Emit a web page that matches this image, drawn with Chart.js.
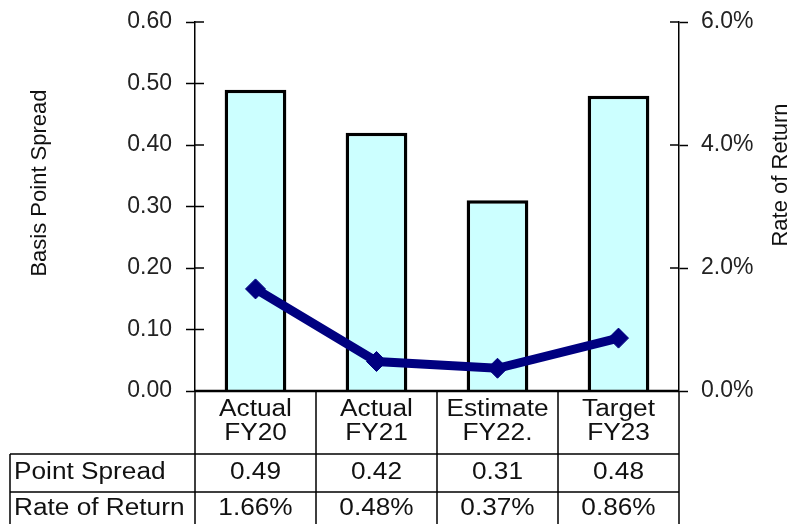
<!DOCTYPE html>
<html>
<head>
<meta charset="utf-8">
<script src="https://cdn.jsdelivr.net/npm/chart.js@4.4.1/dist/chart.umd.min.js"></script>
<style>
  body { margin: 0; background: #fff; }
</style>
</head>
<body>
<canvas id="chart" width="795" height="524"></canvas>
<script>
// data
const categories = [["Actual", "FY20"], ["Actual", "FY21"], ["Estimate", "FY22."], ["Target", "FY23"]];
const pointSpread = [0.49, 0.42, 0.31, 0.48];
const rateOfReturn = [1.66, 0.48, 0.37, 0.86]; // percent
const rowLabels = ["Point Spread", "Rate of Return"];
const spreadRange = [0, 0.6, 0.1];
const returnRange = [0, 6, 2];

const FONT = '"Liberation Sans", Arial, sans-serif';
const SX = 1.14; // reference text is a bit wide

function wideText(ctx, s, x, y, align) {
  ctx.save();
  ctx.translate(x, y);
  ctx.scale(SX, 1);
  ctx.textAlign = align;
  ctx.fillText(s, 0, 0);
  ctx.restore();
}

// fixed axis widths, no extra label padding
function fitAxis(width) {
  return (scale) => {
    scale.width = width;
    scale.paddingTop = 0;
    scale.paddingBottom = 0;
  };
}

// table under the plot, inner tick marks, axis titles
const tablePlugin = {
  id: "dataTable",
  afterDraw(chart) {
    const ctx = chart.ctx;
    const a = chart.chartArea;
    const colW = (a.right - a.left) / categories.length;
    const top = a.bottom;
    const hdrB = top + 63;
    const row1B = hdrB + 38;
    const bottom = 530;
    const tableL = 10;

    ctx.save();
    ctx.strokeStyle = "#000";
    ctx.lineWidth = 1.5;

    // inner halves of tick marks
    chart.scales.y.ticks.forEach((t) => {
      const y = chart.scales.y.getPixelForValue(t.value);
      ctx.beginPath(); ctx.moveTo(a.left, y); ctx.lineTo(a.left + 9, y); ctx.stroke();
    });
    chart.scales.y2.ticks.forEach((t) => {
      const y = chart.scales.y2.getPixelForValue(t.value);
      ctx.beginPath(); ctx.moveTo(a.right - 9, y); ctx.lineTo(a.right, y); ctx.stroke();
    });

    // grid of the table
    ctx.beginPath();
    for (let i = 0; i <= categories.length; i++) {
      const x = a.left + i * colW;
      ctx.moveTo(x, top); ctx.lineTo(x, bottom);
    }
    ctx.moveTo(tableL, hdrB); ctx.lineTo(tableL, bottom);
    ctx.moveTo(tableL, hdrB); ctx.lineTo(a.right, hdrB);
    ctx.moveTo(tableL, row1B); ctx.lineTo(a.right, row1B);
    ctx.stroke();

    ctx.lineWidth = 2.5;
    ctx.beginPath(); ctx.moveTo(a.left, top); ctx.lineTo(a.right, top); ctx.stroke();

    ctx.fillStyle = "#111";
    ctx.font = "23px " + FONT;
    ctx.textBaseline = "middle";

    categories.forEach((lines, i) => {
      const cx = a.left + (i + 0.5) * colW;
      wideText(ctx, lines[0], cx, top + 19, "center");
      wideText(ctx, lines[1], cx, top + 43, "center");
      wideText(ctx, pointSpread[i].toFixed(2), cx, hdrB + 19, "center");
      wideText(ctx, rateOfReturn[i].toFixed(2) + "%", cx, row1B + 17, "center");
    });
    wideText(ctx, rowLabels[0], 14, hdrB + 19, "left");
    wideText(ctx, rowLabels[1], 14, row1B + 17, "left");

    // axis titles, both reading bottom to top
    ctx.font = "22px " + FONT;
    ctx.textAlign = "center";
    ctx.save();
    ctx.translate(40, 183);
    ctx.rotate(-Math.PI / 2);
    ctx.fillText("Basis Point Spread", 0, 0);
    ctx.restore();
    ctx.save();
    ctx.translate(781, 175);
    ctx.rotate(-Math.PI / 2);
    ctx.fillText("Rate of Return", 0, 0);
    ctx.restore();

    ctx.restore();
  },
};

new Chart(document.getElementById("chart"), {
  type: "bar",
  data: {
    labels: categories,
    datasets: [
      {
        type: "line",
        label: "Rate of Return",
        data: rateOfReturn,
        yAxisID: "y2",
        order: 0,
        borderColor: "#000080",
        borderWidth: 9,
        pointStyle: "rectRot",
        pointRadius: 10,
        pointBackgroundColor: "#000080",
        pointBorderColor: "#000080",
        pointBorderWidth: 1,
        tension: 0,
      },
      {
        label: "Point Spread",
        data: pointSpread,
        yAxisID: "y",
        order: 1,
        backgroundColor: "#CCFFFF",
        borderColor: "#000",
        borderWidth: 3.5,
        barPercentage: 0.51,
        categoryPercentage: 1,
      },
    ],
  },
  options: {
    responsive: false,
    animation: false,
    layout: { padding: { top: 22, bottom: 133, left: 0, right: 0 } },
    plugins: {
      legend: { display: false },
      tooltip: { enabled: false },
    },
    scales: {
      x: { display: false },
      y: {
        position: "left",
        min: spreadRange[0],
        max: spreadRange[1],
        afterFit: fitAxis(195),
        ticks: {
          stepSize: spreadRange[2],
          padding: 14,
          color: "#222",
          font: { family: FONT, size: 23 },
          callback: (v) => v.toFixed(2),
        },
        grid: { drawOnChartArea: false, tickLength: 9, color: "#000", tickWidth: 1.5 },
        border: { color: "#000", width: 1.5 },
      },
      y2: {
        position: "right",
        min: returnRange[0],
        max: returnRange[1],
        afterFit: fitAxis(116),
        ticks: {
          stepSize: returnRange[2],
          padding: 13,
          color: "#222",
          font: { family: FONT, size: 23 },
          callback: (v) => v.toFixed(1) + "%",
        },
        grid: { drawOnChartArea: false, tickLength: 9, color: "#000", tickWidth: 1.5 },
        border: { color: "#000", width: 1.5 },
      },
    },
  },
  plugins: [tablePlugin],
});
</script>
</body>
</html>
